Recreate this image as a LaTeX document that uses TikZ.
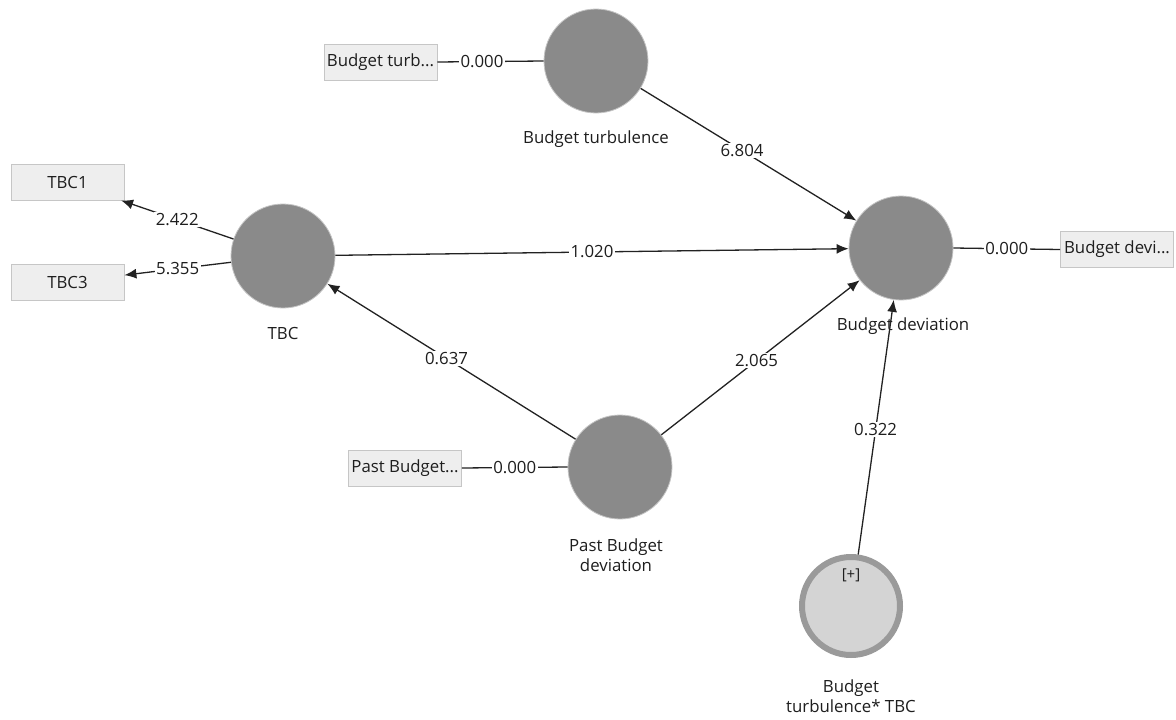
\documentclass[tikz,border=0pt]{standalone}
\usepackage{fontspec}
\setmainfont{Open Sans}
\usetikzlibrary{arrows.meta}
\definecolor{lvgray}{HTML}{8A8A8A}
\definecolor{lvborder}{HTML}{C4C4C4}
\definecolor{boxfill}{HTML}{EEEEEE}
\definecolor{boxborder}{HTML}{C6C6C6}
\definecolor{linecol}{HTML}{222222}
\definecolor{ringfill}{HTML}{D4D4D4}
\definecolor{ringdraw}{HTML}{9A9A9A}
\definecolor{txt}{HTML}{1E1E1E}
\newcommand{\fs}{\fontsize{16.8}{19.5}\selectfont}
\begin{document}
\begin{tikzpicture}[x=1pt,y=-1pt,
  lv/.style={circle, fill=lvgray, draw=lvborder, line width=0.8pt, minimum size=104pt, inner sep=0pt},
  ring/.style={circle, fill=ringfill, draw=ringdraw, line width=6pt, minimum size=98pt, inner sep=0pt},
  ind/.style={draw=boxborder, fill=boxfill, line width=0.8pt, minimum width=113pt, minimum height=36pt, inner sep=0pt, font=\fs, text=txt},
  lbl/.style={font=\fs, align=center, text=txt, inner sep=0pt},
  coef/.style={fill=white, inner sep=1.5pt, font=\fs, text=txt},
  conn/.style={draw=linecol, line width=1.3pt},
  arr/.style={conn, -{Latex[length=12pt,width=10pt]}}
]
\useasboundingbox[fill=white] (0,0) rectangle (1176,720);

% latent variables
\node[lv] (bt) at (596,61) {};
\node[lv] (tbc) at (283,256) {};
\node[lv] (bd) at (901,248) {};
\node[lv] (pbd) at (620,467) {};
\node[ring] (int) at (851,606) {};
\node[lbl, font=\fontsize{15}{17}\selectfont] (plus) at (851,575) {[+]};

% latent labels
\node[lbl] (btl) at (596,139) {Budget turbulence};
\node[lbl] (tbcl) at (283,333) {TBC};
\node[lbl] (bdl) at (903,326) {Budget deviation};
\node[lbl] (pbdl) at (616,555) {Past Budget\\deviation};
\node[lbl] (intl) at (851,696) {Budget\\turbulence* TBC};

% indicators
\node[ind] (btb) at (380.5,62) {Budget turb...};
\node[ind] (tbc1) at (67.5,182) {TBC1};
\node[ind] (tbc3) at (67.5,282) {TBC3};
\node[ind] (bdb) at (1117,249.5) {Budget devi...};
\node[ind] (pbdb) at (405,468) {Past Budget...};

% measurement connectors
\draw[conn] (btb.east) -- node[coef, pos=0.42] {0.000} (bt.west);
\draw[conn] (pbdb.east) -- node[coef, pos=0.5] {0.000} (pbd.west);
\draw[conn] (bd.east) -- node[coef, pos=0.5] {0.000} (bdb.west);
\draw[arr] (tbc) -- node[coef, pos=0.5] {2.422} (tbc1);
\draw[arr] (tbc) -- node[coef, pos=0.5] {5.355} (tbc3);

% structural paths
\draw[arr] (bt) -- node[coef, pos=0.47] {6.804} (bd);
\draw[arr] (tbc) -- node[coef, pos=0.5] {1.020} (bd);
\draw[arr] (pbd) -- node[coef, pos=0.52] {0.637} (tbc);
\draw[arr] (pbd) -- node[coef, pos=0.48] {2.065} (bd);
\draw[arr] (int) -- node[coef, pos=0.49] {0.322} (bd);
\end{tikzpicture}
\end{document}
